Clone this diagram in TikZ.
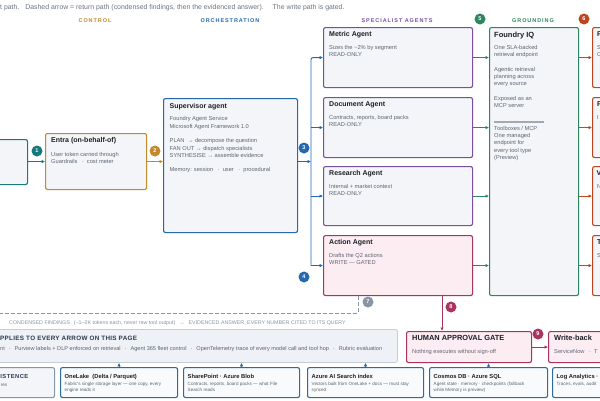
\documentclass[tikz,border=0pt]{standalone}
\usepackage{fontspec}
\setmainfont{Liberation Sans}
\usetikzlibrary{arrows.meta,positioning}

\definecolor{ctlgold}{HTML}{C38A2B}
\definecolor{orchblue}{HTML}{2469AE}
\definecolor{specpurple}{HTML}{7A4FA3}
\definecolor{gatered}{HTML}{A8345F}
\definecolor{grndgreen}{HTML}{2E8560}
\definecolor{outred}{HTML}{BF4520}
\definecolor{entryteal}{HTML}{17797E}
\definecolor{retgray}{HTML}{8795A5}
\definecolor{cardbg}{HTML}{F3F5F9}
\definecolor{gatebg}{HTML}{FCEDF2}
\definecolor{ink}{HTML}{1C1F24}
\definecolor{muted}{HTML}{5E6670}
\definecolor{applybg}{HTML}{EEF1F5}
\definecolor{applyline}{HTML}{C5CDD6}
\definecolor{storeblue}{HTML}{2D6A9F}
\definecolor{storebg}{HTML}{F8FAFC}
\definecolor{capgray}{HTML}{6B7580}
\definecolor{navyink}{HTML}{2B3A4C}

\newcommand{\dotsep}{\hspace{3pt}·\hspace{3pt}}

\begin{document}
\begin{tikzpicture}[x=1pt,y=-1pt,
	card/.style={draw=#1,fill=cardbg,line width=1.1pt,rounded corners=2pt,anchor=north west,inner sep=0pt},
	ttl/.style={font=\bfseries\fontsize{7}{8}\selectfont,text=ink,inner sep=0pt},
	txt/.style={font=\fontsize{5.7}{7.3}\selectfont,text=muted,align=left,inner sep=0pt},
	store/.style={draw=#1,fill=storebg,line width=1.1pt,rounded corners=2pt,anchor=north west,inner sep=0pt,minimum height=30pt},
	stl/.style={font=\bfseries\fontsize{5.8}{7}\selectfont,text=ink,inner sep=0pt},
	stx/.style={font=\fontsize{4.6}{6.3}\selectfont,text=muted,align=left,inner sep=0pt},
	hdr/.style={font=\bfseries\fontsize{5.5}{6}\selectfont\addfontfeature{LetterSpace=17},text=#1,inner sep=0pt},
	badge/.style={circle,fill=#1,text=white,font=\bfseries\fontsize{5.5}{6}\selectfont,minimum size=11pt,inner sep=0pt},
	arr/.style={draw=#1,line width=0.9pt,-{Latex[length=3.5pt,width=3.5pt]}},
	]
	
	\useasboundingbox (0,0) rectangle (600,400);
	\fill[white] (0,0) rectangle (600,400);
	\clip (0,0) rectangle (600,400);
	
	\node[anchor=base west,font=\fontsize{6.9}{8}\selectfont,text=capgray,inner sep=0pt] (legend) at (0,9) {t path.\hspace{6pt}Dashed arrow = return path (condensed findings, then the evidenced answer).\hspace{9pt}The write path is gated.};
	
	\node[hdr=ctlgold] (hctl) at (95,21) {CONTROL};
	\node[hdr=orchblue] (horch) at (230,21) {ORCHESTRATION};
	\node[hdr=specpurple] (hspec) at (397,21) {SPECIALIST AGENTS};
	\node[hdr=grndgreen] (hgrnd) at (533,21) {GROUNDING};
	
	% control + orchestration
	\node[card=entryteal,minimum width=37pt,minimum height=45pt] (entry) at (-10,139) {};
	\node[card=ctlgold,minimum width=101pt,minimum height=56pt] (entra) at (45,133) {};
	\node[ttl,below right=9.5pt and 6pt of entra.north west,anchor=base west] (entra-t) {Entra (on-behalf-of)};
	\node[txt,below right=19pt and 6pt of entra.north west] (entra-b) {User token carried through\\Guardrails \dotsep cost meter};
	
	\node[card=orchblue,minimum width=134pt,minimum height=134pt] (sup) at (163,98) {};
	\node[ttl,below right=10pt and 6.5pt of sup.north west,anchor=base west] (sup-t) {Supervisor agent};
	\node[txt,below right=18.5pt and 6.5pt of sup.north west] (sup-b) {Foundry Agent Service\\Microsoft Agent Framework 1.0\\[7.3pt]PLAN\ \ → decompose the question\\FAN OUT → dispatch specialists\\SYNTHESISE → assemble evidence\\[7.3pt]Memory: session \dotsep user \dotsep procedural};
	
	% specialists
	\node[card=specpurple,minimum width=149pt,minimum height=60pt] (metric) at (323,27) {};
	\node[ttl,below right=9.5pt and 6pt of metric.north west,anchor=base west] (metric-t) {Metric Agent};
	\node[txt,below right=18pt and 6pt of metric.north west] (metric-b) {Sizes the \textasciitilde2\% by segment\\READ-ONLY};
	
	\node[card=specpurple,minimum width=149pt,minimum height=60pt] (doc) at (323,97) {};
	\node[ttl,below right=9.5pt and 6pt of doc.north west,anchor=base west] (doc-t) {Document Agent};
	\node[txt,below right=18pt and 6pt of doc.north west] (doc-b) {Contracts, reports, board packs\\READ-ONLY};
	
	\node[card=specpurple,minimum width=149pt,minimum height=59pt] (research) at (323,166) {};
	\node[ttl,below right=9.5pt and 6pt of research.north west,anchor=base west] (research-t) {Research Agent};
	\node[txt,below right=18pt and 6pt of research.north west] (research-b) {Internal + market context\\READ-ONLY};
	
	\node[card=gatered,fill=gatebg,minimum width=149pt,minimum height=60pt] (action) at (323,235) {};
	\node[ttl,below right=9.5pt and 6pt of action.north west,anchor=base west] (action-t) {Action Agent};
	\node[txt,below right=18pt and 6pt of action.north west] (action-b) {Drafts the Q2 actions\\WRITE — GATED};
	
	% grounding
	\node[card=grndgreen,minimum width=89pt,minimum height=268pt] (fiq) at (489,27) {};
	\node[ttl,font=\bfseries\fontsize{7.5}{8}\selectfont,below right=10pt and 5pt of fiq.north west,anchor=base west] (fiq-t) {Foundry IQ};
	\node[txt,below right=18pt and 5pt of fiq.north west] (fiq-b) {One SLA-backed\\retrieval endpoint\\[7.3pt]Agentic retrieval\\planning across\\every source\\[7.3pt]Exposed as an\\MCP server};
	\draw[retgray!80,line width=1.2pt] ([shift={(5,95)}]fiq.north west) -- ++(50,0);
	\node[txt,below right=99pt and 5pt of fiq.north west] (fiq-c) {Toolboxes / MCP\\One managed\\endpoint for\\every tool type\\(Preview)};
	
	% right column
	\node[card=outred,minimum width=40pt,minimum height=60pt] (out1) at (592,27) {};
	\node[ttl,below right=9.5pt and 5pt of out1.north west,anchor=base west] (out1-t) {F};
	\node[txt,below right=18pt and 5pt of out1.north west] (out1-b) {S\\C};
	\node[card=outred,minimum width=40pt,minimum height=60pt] (out2) at (592,97) {};
	\node[ttl,below right=9.5pt and 5pt of out2.north west,anchor=base west] (out2-t) {F};
	\node[txt,below right=18pt and 5pt of out2.north west] (out2-b) {I};
	\node[card=outred,minimum width=40pt,minimum height=59pt] (out3) at (592,166) {};
	\node[ttl,below right=9.5pt and 4.5pt of out3.north west,anchor=base west] (out3-t) {V};
	\node[txt,below right=18pt and 5pt of out3.north west] (out3-b) {N};
	\node[card=outred,minimum width=40pt,minimum height=60pt] (out4) at (592,235) {};
	\node[ttl,below right=9.5pt and 5pt of out4.north west,anchor=base west] (out4-t) {T};
	\node[txt,below right=18pt and 5pt of out4.north west] (out4-b) {S};
	
	% request path
	\coordinate (trunk) at (311,0);
	\draw[arr=entryteal] (entry.east |- entra.west) -- (entra.west);
	\draw[arr=ctlgold] (entra.east) -- (entra.east -| sup.west);
	\draw[arr=orchblue] (sup.east |- entra.east) -- (trunk |- entra.east);
	\draw[arr=orchblue,rounded corners=2pt] (trunk |- action.west) -- (trunk |- metric.west) -- (metric.west);
	\draw[arr=orchblue] (trunk |- doc.west) -- (doc.west);
	\draw[arr=orchblue] (trunk |- research.west) -- (research.west);
	\draw[arr=orchblue] (trunk |- action.west) -- (action.west);
	\foreach \s in {metric,doc,research,action}
		\draw[arr=grndgreen] (\s.east) -- (\s.east -| fiq.west);
	\foreach \o in {out1,out2,out3,out4}
		\draw[arr=outred] (fiq.east |- \o.west) -- (\o.west);
	
	% return path
	\coordinate (rx) at (358,0);
	\coordinate (retend) at (-5,313);
	\draw[retgray,line width=0.9pt,dash pattern=on 3.5pt off 2.5pt] (action.south -| rx) -- (rx |- retend) -- (retend);
	\node[anchor=base west,font=\fontsize{5.3}{6}\selectfont,text=retgray,inner sep=0pt] (retcap) at (9,324) {CONDENSED FINDINGS\hspace{4pt}(\textasciitilde1–2K tokens each, never raw tool output)\hspace{4pt}→\hspace{4pt}EVIDENCED ANSWER, EVERY NUMBER CITED TO ITS QUERY};
	
	% governance band
	\node[draw=applyline,fill=applybg,line width=0.8pt,rounded corners=2pt,anchor=north west,inner sep=0pt,minimum width=407pt,minimum height=33pt] (applies) at (-10,329) {};
	\node[anchor=base west,font=\bfseries\fontsize{6.3}{7}\selectfont\addfontfeature{LetterSpace=5},text=navyink,inner sep=0pt] (applies-t) at (0,340.5) {PPLIES TO EVERY ARROW ON THIS PAGE};
	\node[anchor=base west,font=\fontsize{5.6}{6}\selectfont,text=muted,inner sep=0pt] (applies-b) at (0,350.5) {nt\hspace{4pt}·\hspace{4pt}Purview labels + DLP enforced on retrieval\hspace{4pt}·\hspace{4pt}Agent 365 fleet control\hspace{4pt}·\hspace{4pt}OpenTelemetry trace of every model call and tool hop\hspace{4pt}·\hspace{4pt}Rubric evaluation};
	
	% write path
	\node[card=gatered,fill=gatebg,minimum width=125pt,minimum height=31pt] (gate) at (406,331) {};
	\node[ttl,font=\bfseries\fontsize{7.4}{8}\selectfont,below right=9.5pt and 6pt of gate.north west,anchor=base west] (gate-t) {HUMAN APPROVAL GATE};
	\node[txt,below right=18pt and 6pt of gate.north west] (gate-b) {Nothing executes without sign-off};
	\node[card=gatered,fill=gatebg,minimum width=80pt,minimum height=31pt] (wback) at (548,331) {};
	\node[ttl,font=\bfseries\fontsize{7.4}{8}\selectfont,below right=9.5pt and 6pt of wback.north west,anchor=base west] (wback-t) {Write-back};
	\node[txt,below right=18pt and 6pt of wback.north west] (wback-b) {ServiceNow \dotsep T};
	\coordinate (gx) at (442,0);
	\draw[arr=gatered] (action.south -| gx) -- (gate.north -| gx);
	\draw[arr=gatered] (gate.east) -- (wback.west);
	
	% persistence row
	\node[store=retgray,fill=cardbg,minimum width=64pt] (persist) at (-10,367) {};
	\node[anchor=base east,font=\bfseries\fontsize{5.8}{7}\selectfont\addfontfeature{LetterSpace=8},text=navyink,inner sep=0pt] (persist-t) at (28.5,378.5) {ISTENCE};
	\node[stx,anchor=base east] (persist-b) at (7.5,386) {res};
	
	\node[store=storeblue,minimum width=117pt] (onelake) at (60,367) {};
	\node[stl,below right=11pt and 4.5pt of onelake.north west,anchor=base west] (onelake-t) {OneLake\ \ (Delta / Parquet)};
	\node[stx,below right=15pt and 4.5pt of onelake.north west] (onelake-b) {Fabric's single storage layer — one copy, every\\engine reads it};
	
	\node[store=storeblue,minimum width=116pt] (sharept) at (183,367) {};
	\node[stl,below right=11pt and 4.5pt of sharept.north west,anchor=base west] (sharept-t) {SharePoint \textperiodcentered\ Azure Blob};
	\node[stx,below right=15pt and 4.5pt of sharept.north west] (sharept-b) {Contracts, reports, board packs — what File\\Search reads};
	
	\node[store=storeblue,minimum width=116pt] (aisearch) at (307,367) {};
	\node[stl,below right=11pt and 4.5pt of aisearch.north west,anchor=base west] (aisearch-t) {Azure AI Search index};
	\node[stx,below right=15pt and 4.5pt of aisearch.north west] (aisearch-b) {Vectors built from OneLake + docs — must stay\\synced};
	
	\node[store=storeblue,minimum width=118pt] (cosmos) at (429,367) {};
	\node[stl,below right=11pt and 4.5pt of cosmos.north west,anchor=base west] (cosmos-t) {Cosmos DB \textperiodcentered\ Azure SQL};
	\node[stx,below right=15pt and 4.5pt of cosmos.north west] (cosmos-b) {Agent state \textperiodcentered\ memory \textperiodcentered\ checkpoints (fallback\\while Memory is preview)};
	
	\node[store=storeblue,minimum width=80pt] (loga) at (552,367) {};
	\node[stl,below right=11pt and 4.5pt of loga.north west,anchor=base west] (loga-t) {Log Analytics \textperiodcentered};
	\node[stx,below right=15pt and 4.5pt of loga.north west] (loga-b) {Traces, evals, audit};
	
	\draw[arr=storeblue] (onelake.north) -- (onelake.north |- applies.south);
	\draw[arr=storeblue] (sharept.north) -- (sharept.north |- applies.south);
	\draw[arr=storeblue] (aisearch.north) -- (aisearch.north |- applies.south);
	\draw[arr=storeblue] (cosmos.north) -- (cosmos.north |- gate.south);
	
	% step badges
	\node[badge=entryteal] (b1) at (37,151) {1};
	\node[badge=ctlgold] (b2) at (155,151) {2};
	\node[badge=orchblue] (b3) at (304,148) {3};
	\node[badge=orchblue] (b4) at (304,277) {4};
	\node[badge=grndgreen] (b5) at (480,19) {5};
	\node[badge=outred] (b6) at (584,19) {6};
	\node[badge=retgray] (b7) at (368,302) {7};
	\node[badge=gatered] (b8) at (451,307) {8};
	\node[badge=gatered] (b9) at (538,334) {9};
	
\end{tikzpicture}
\end{document}
